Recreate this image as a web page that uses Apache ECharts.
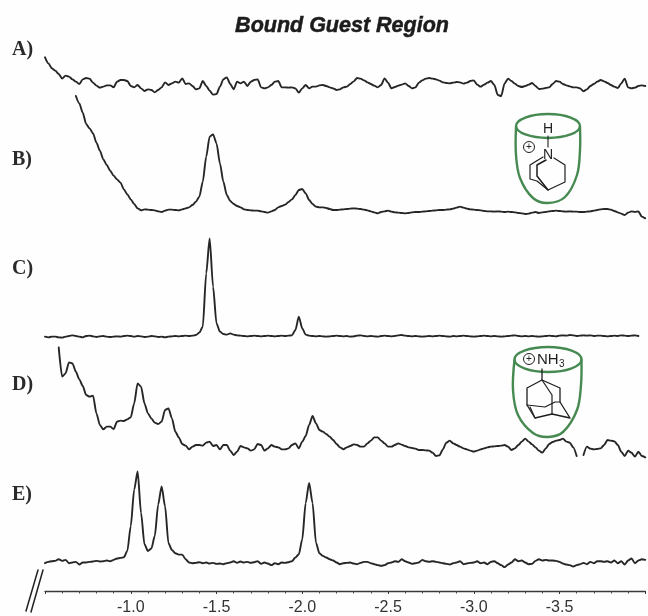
<!DOCTYPE html>
<html><head><meta charset="utf-8">
<style>html,body{margin:0;padding:0;background:#fefefe}#c{width:648px;height:616px}</style>
<script src="https://cdn.jsdelivr.net/npm/echarts@6/dist/echarts.min.js"></script>
</head><body><div id="c"></div>
<script>
const titleText = 'Bound Guest Region';
const panelLabels = ['A)', 'B)', 'C)', 'D)', 'E)'];
const shiftStep = 0.02;   // ppm between samples
const shiftStart = -0.5;  // ppm of sample 0
const xMin = -4, xMax = -0.5, xInterval = 0.5;

const spectrumA = [128,110,95,88,78,64,73,70,62,55,48,62,66,64,52,43,37,40,44,44,38,55,60,60,57,42,38,45,35,27,32,30,23,30,38,53,45,50,55,52,65,48,50,42,32,35,57,42,28,16,18,40,62,68,48,32,55,50,55,42,55,60,62,38,35,38,45,55,57,38,38,37,38,35,22,35,45,35,40,40,44,
45,42,38,35,30,32,38,40,48,56,66,64,59,53,48,43,38,45,65,52,35,39,43,46,50,42,35,38,52,59,64,66,64,62,58,53,51,50,52,54,53,49,52,57,59,46,40,46,52,57,45,15,12,50,64,57,49,42,39,42,46,51,42,33,34,36,38,48,57,55,48,44,41,38,38,35,26,32,42,48,55,60,56,51,45,40,36,50,64,38,35,37,42,44,42];

const spectrumB = [372,350,322,288,275,260,232,208,182,165,148,133,122,112,92,77,62,48,35,29,32,31,30,29,26,24,28,31,31,30,29,32,35,38,45,55,70,115,190,250,257,230,170,115,75,57,48,42,38,32,30,29,28,28,26,24,22,26,30,38,42,46,54,62,75,90,93,80,60,48,40,38,38,
36,33,30,30,31,32,33,34,35,34,33,31,29,26,23,20,24,26,28,25,23,22,21,20,21,23,24,24,25,26,27,28,29,30,30,31,32,34,37,40,37,34,32,31,30,29,27,26,26,25,26,25,24,25,24,23,21,20,18,19,22,24,21,23,24,26,27,28,27,26,25,26,25,25,24,24,25,26,28,30,32,33,33,31,27,23,19,15,22,26,24,26,10,5];

const spectrumC = [20,18,20,20,18,17,20,22,24,22,20,18,22,23,21,19,21,22,20,19,20,21,20,22,23,22,20,22,21,19,20,22,21,19,20,18,20,21,22,21,22,23,22,23,25,32,50,210,315,170,60,35,28,26,30,26,24,23,22,21,22,23,22,21,22,23,22,21,22,23,22,23,24,40,80,45,26,23,22,
21,22,21,20,21,22,23,22,21,22,20,21,23,24,22,21,22,21,20,22,23,22,21,22,24,25,23,22,21,22,21,20,21,22,21,22,23,22,21,20,22,21,22,23,22,21,20,21,22,23,22,21,22,21,20,21,22,23,24,22,21,22,21,22,21,20,21,22,23,22,21,23,24,23,25,24,22,23,24,23,24,22,23,23,22,21,22,23,22,24,23,22,23,24,22];

const spectrumD = [368,280,290,323,320,295,272,252,225,220,223,170,135,122,130,130,123,145,148,147,152,158,200,260,250,200,170,155,142,138,145,180,185,155,115,98,78,73,62,70,75,75,73,82,85,72,75,62,75,75,58,45,55,72,68,65,58,62,78,75,58,65,75,70,68,62,62,65,75,80,65,85,102,135,162,140,120,115,
108,100,90,78,68,62,68,72,77,75,70,70,80,88,98,98,88,80,70,70,75,80,76,72,68,66,64,60,60,59,58,52,42,44,62,82,88,80,75,70,65,62,58,55,58,62,65,68,70,71,72,73,75,70,60,65,75,85,94,85,77,68,58,52,65,78,84,88,90,94,85,82,68,42,null,45,70,64,62,63,65,75,90,88,86,75,55,42,58,52,40,55,42,38];

const spectrumE = [78,82,84,85,90,85,88,78,80,82,74,80,80,82,83,85,83,84,86,84,88,92,94,96,115,190,300,355,230,135,115,122,160,255,310,250,138,118,108,104,104,90,80,78,79,81,78,80,77,79,76,77,75,78,80,84,79,83,80,82,79,81,84,76,80,77,72,78,75,80,79,81,84,95,105,150,260,320,260,140,108,100,
95,90,86,80,75,78,79,80,77,75,79,82,82,78,75,72,70,72,78,80,84,82,90,84,80,76,78,80,88,84,82,84,82,80,78,76,74,78,80,84,75,77,79,80,84,78,80,75,82,84,78,72,66,74,80,90,84,86,80,75,76,85,90,86,88,86,86,85,82,77,74,72,68,72,75,79,75,82,78,84,84,82,84,80,86,78,84,74,86,92,78,86,90,88];

const spectra = [spectrumA, spectrumB, spectrumC, spectrumD, spectrumE];
const firstSample = [0, 9, 0, 4, 0];
const baselinePx = [100, 220, 343.33, 470, 592];
const maxUnits = [180, 390, 400, 390, 444];
const minUnits = [0, 0, 0, 0, -6];
const labelY = [50, 160, 269, 385, 495];

const grids = [], xAxes = [], yAxes = [], series = [];
spectra.forEach((vals, k) => {
  const span = maxUnits[k] - minUnits[k];
  grids.push({ left: 45, width: 600.25, top: baselinePx[k] - span / 3, height: span / 3 });
  const last = k === 4;
  xAxes.push({
    type: 'value', gridIndex: k, inverse: true, min: xMin, max: xMax, interval: xInterval,
    show: last, splitLine: { show: false },
    axisLine: { show: true, onZero: false, lineStyle: { color: '#3a3a3a', width: 1.3 } },
    axisTick: { show: true, length: 3, inside: false, lineStyle: { color: '#3a3a3a', width: 1 } },
    minorTick: { show: true, splitNumber: 5, length: 2.5, lineStyle: { color: '#4a4a4a', width: 1 } },
    axisLabel: { show: true, showMinLabel: false, showMaxLabel: false, margin: 9, color: '#333',
      fontFamily: 'Liberation Sans', fontSize: 16, formatter: v => v.toFixed(1) }
  });
  yAxes.push({ type: 'value', gridIndex: k, show: false, min: minUnits[k], max: maxUnits[k], splitLine: { show: false } });
  series.push({
    type: 'line', xAxisIndex: k, yAxisIndex: k, showSymbol: false, symbol: 'none', silent: true,
    animation: false, connectNulls: false, clip: false, smooth: 0.25, smoothMonotone: 'x',
    lineStyle: { color: '#262626', width: 1.9, join: 'round', cap: 'round' },
    data: vals.map((v, i) => [+(shiftStart - (i + firstSample[k]) * shiftStep).toFixed(2), v])
  });
});

const green = '#468a52', ink = '#1e1e1e';
const poly = (points, color, width, smooth) => ({ type: 'polyline', silent: true, z: 20,
  shape: { points, smooth: smooth || 0 }, style: { stroke: color, lineWidth: width, fill: null, lineJoin: 'round', lineCap: 'round' } });
const txt = (x, y, text, font, fill, align) => ({ type: 'text', x, y, silent: true, z: 21,
  style: { text, font, fill, align: align || 'left', verticalAlign: 'middle' } });
const ring = (cx, cy, rx, ry, color, width) => ({ type: 'ellipse', silent: true, z: 20,
  shape: { cx, cy, rx, ry }, style: { stroke: color, lineWidth: width, fill: null } });

const graphics = [];
panelLabels.forEach((t, i) => graphics.push(txt(12, labelY[i], t, 'bold 20px "Liberation Serif"', '#2a2a2a')));
graphics.push(poly([[26, 611], [38, 570]], '#222', 1.5), poly([[31, 612], [43, 570]], '#222', 1.5));

// cup with quinuclidinium guest
graphics.push(
  ring(548, 126, 32, 12, green, 2.4),
  poly([[516, 127], [516, 155], [520, 178], [533, 198], [548, 203], [565, 197], [577, 175], [580, 150], [580, 127]], green, 2.4, 0.35),
  txt(548, 129, 'H', '14px "Liberation Sans"', ink, 'center'),
  txt(548, 155, 'N', '14px "Liberation Sans"', ink, 'center'),
  poly([[548, 136], [548, 147]], ink, 1.1),
  ring(529, 147, 5.5, 5.5, ink, 1),
  txt(529, 147.5, '+', '10px "Liberation Sans"', ink, 'center'),
  poly([[554, 158], [565, 165], [565, 182], [548, 190], [537, 181], [530, 179], [530, 165], [543, 157]], ink, 1.2),
  poly([[546, 160], [537, 165], [537, 176], [548, 190]], ink, 1.5)
);
// cup with adamantylammonium guest
graphics.push(
  ring(548, 359.5, 33.5, 12.5, green, 2.4),
  poly([[514.5, 360], [513, 390], [518, 415], [533, 433], [548, 437], [563, 432], [577, 410], [581, 385], [581.5, 360]], green, 2.4, 0.35),
  ring(529, 359, 5.5, 5.5, ink, 1),
  txt(529, 359.5, '+', '10px "Liberation Sans"', ink, 'center'),
  txt(537, 360, 'NH', '15px "Liberation Sans"', ink),
  txt(559, 364, '3', '10px "Liberation Sans"', ink),
  poly([[542, 369], [542, 380], [527, 388], [527, 405], [535, 418], [552, 414], [570, 418], [560, 402], [560, 388], [542, 380]], ink, 1.3),
  poly([[542, 380], [552, 395], [552, 414]], ink, 1.2),
  poly([[527, 405], [545, 407], [555, 402], [560, 402]], ink, 1.2),
  poly([[535, 418], [530, 407]], ink, 1.2)
);

const chart = echarts.init(document.getElementById('c'), null, { renderer: 'canvas' });
chart.setOption({
  animation: false,
  backgroundColor: '#fefefe',
  title: { text: titleText, left: 337, top: 10, textAlign: 'center',
    textStyle: { fontFamily: 'Liberation Sans', fontWeight: 'bold', fontStyle: 'italic', fontSize: 21.5, color: '#1c1c1c', textBorderColor: '#1c1c1c', textBorderWidth: 0.5 } },
  tooltip: { show: false }, legend: { show: false },
  grid: grids, xAxis: xAxes, yAxis: yAxes, series,
  graphic: { elements: graphics }
});
</script></body></html>
